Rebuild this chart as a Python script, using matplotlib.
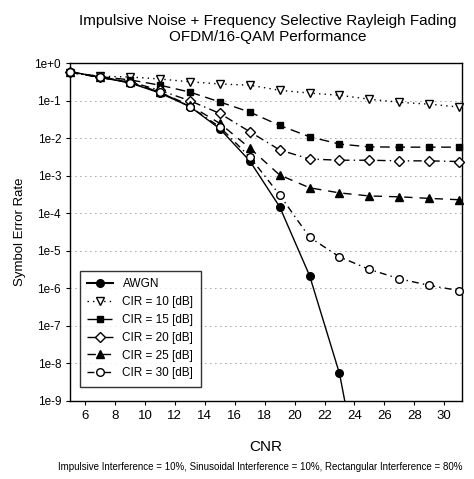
import numpy as np
import matplotlib
matplotlib.use('Agg')
import matplotlib.pyplot as plt

plt.rcParams['font.family'] = ['Liberation Sans', 'DejaVu Sans']

# CNR points and symbol error rates
cnr = np.array([5, 7, 9, 11, 13, 15, 17, 19, 21, 23, 25, 27, 29, 31])
awgn = np.array([0.6, 0.42, 0.3, 0.16, 0.07, 0.018, 2.5e-3, 1.5e-4, 2.2e-6, 5.4e-9, 4e-13])
cir10 = np.array([0.56, 0.45, 0.43, 0.38, 0.32, 0.28, 0.26, 0.19, 0.16, 0.14, 0.11, 0.091, 0.081, 0.068])
cir15 = np.array([0.58, 0.44, 0.36, 0.26, 0.17, 0.093, 0.05, 0.022, 0.011, 0.007, 0.0059, 0.0058, 0.0058, 0.0058])
cir20 = np.array([0.57, 0.43, 0.32, 0.19, 0.1, 0.046, 0.015, 0.0049, 0.0028, 0.0026, 0.0026, 0.0025, 0.0025, 0.0024])
cir25 = np.array([0.57, 0.42, 0.31, 0.17, 0.075, 0.025, 0.0055, 1.05e-3, 4.8e-4, 3.5e-4, 2.9e-4, 2.75e-4, 2.5e-4, 2.3e-4])
cir30 = np.array([0.58, 0.42, 0.3, 0.17, 0.07, 0.02, 0.0032, 3.1e-4, 2.3e-5, 6.9e-6, 3.2e-6, 1.8e-6, 1.2e-6, 8.7e-7])

xticks = [6, 8, 10, 12, 14, 16, 18, 20, 22, 24, 26, 28, 30]
yticks = [1e0, 1e-1, 1e-2, 1e-3, 1e-4, 1e-5, 1e-6, 1e-7, 1e-8, 1e-9]
ytick_labels = ['1e+0', '1e-1', '1e-2', '1e-3', '1e-4', '1e-5', '1e-6', '1e-7', '1e-8', '1e-9']

fig = plt.figure(figsize=(4.74, 4.79), dpi=100)
ax = fig.add_axes([0.148, 0.163, 0.827, 0.705])
ax.set_yscale('log')

# dotted horizontal grid
for yv in yticks[1:]:
    ax.axhline(yv, color='#444444', linestyle=(0, (1, 5)), linewidth=0.6, zorder=0)

# AWGN: line clipped, markers only inside the axes
ax.plot(cnr[:len(awgn)], awgn, '-', color='black', linewidth=1.0, zorder=3)
inside = awgn >= 1e-9
ax.plot(cnr[:len(awgn)][inside], awgn[inside], 'o', color='black', markersize=5.5,
        clip_on=False, zorder=4)
ax.plot([], [], '-o', color='black', markersize=5.5, label='AWGN')

ax.plot(cnr, cir10, color='black', linestyle=(0, (1, 3)), linewidth=1.0, marker='v',
        markerfacecolor='white', markersize=6, clip_on=False, zorder=4, label='CIR = 10 [dB]')
ax.plot(cnr, cir15, color='black', linestyle=(0, (7, 4)), linewidth=1.0, marker='s',
        markersize=5, clip_on=False, zorder=4, label='CIR = 15 [dB]')
ax.plot(cnr, cir20, color='black', linestyle=(0, (6, 3, 1, 3)), linewidth=1.0, marker='D',
        markerfacecolor='white', markersize=4.8, clip_on=False, zorder=4, label='CIR = 20 [dB]')
ax.plot(cnr, cir25, color='black', linestyle=(0, (6, 5)), linewidth=1.0, marker='^',
        markersize=5.5, clip_on=False, zorder=4, label='CIR = 25 [dB]')
ax.plot(cnr, cir30, color='black', linestyle=(0, (5, 3, 1, 3)), linewidth=1.0, marker='o',
        markerfacecolor='white', markersize=5.5, clip_on=False, zorder=4, label='CIR = 30 [dB]')

ax.set_xlim(5, 31.2)
ax.set_ylim(1e-9, 1e0)
ax.set_xticks(xticks)
ax.set_xticklabels([str(t) for t in xticks], fontsize=9.5)
ax.set_yticks(yticks)
ax.set_yticklabels(ytick_labels, fontsize=8.5)
ax.minorticks_off()
ax.tick_params(length=3, width=0.8)
for sp in ax.spines.values():
    sp.set_linewidth(1.0)

ax.set_xlabel('CNR', fontsize=11, labelpad=13)
ax.set_ylabel('Symbol Error Rate', fontsize=9.5, labelpad=6)
fig.text(0.565, 0.94, 'Impulsive Noise + Frequency Selective Rayleigh Fading\nOFDM/16-QAM Performance',
         ha='center', va='center', fontsize=11, linespacing=1.2)
fig.text(0.55, 0.025, 'Impulsive Interference = 10%, Sinusoidal Interference = 10%, Rectangular Interference = 80%',
         ha='center', va='center', fontsize=7)

leg = ax.legend(loc='lower left', bbox_to_anchor=(0.01, 0.025), fontsize=8.5, frameon=True,
                fancybox=False, edgecolor='black', handlelength=2.2, borderpad=0.6,
                labelspacing=0.5)
leg.get_frame().set_linewidth(1.0)

fig.savefig('out.png', dpi=100)
